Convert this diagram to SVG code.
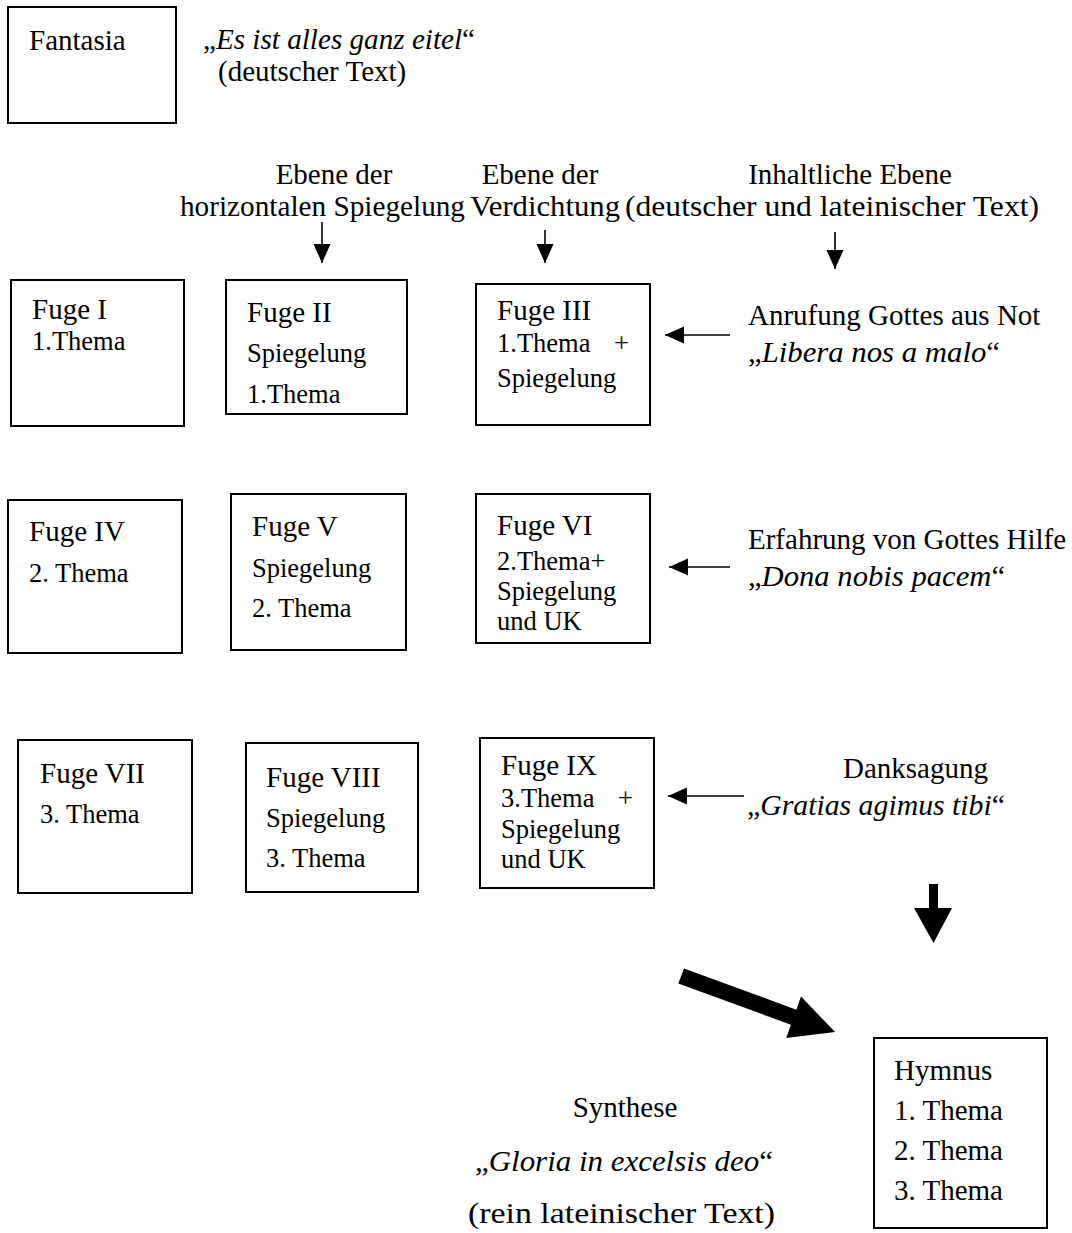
<svg xmlns="http://www.w3.org/2000/svg" width="1072" height="1233" viewBox="0 0 1072 1233">
<style>
text{font-family:"Liberation Serif","Times New Roman",serif;fill:#000;}
.m{font-size:29px;}
.s{font-size:26.5px;}
.i{font-style:italic;}
.c{text-anchor:middle;}
rect.b{fill:#fff;stroke:#000;stroke-width:2;}
.ln{stroke:#000;stroke-width:1.6;fill:none;}
.hd{fill:#000;stroke:none;}
</style>
<defs>
<marker id="ah" markerUnits="userSpaceOnUse" markerWidth="20" markerHeight="18" refX="19" refY="8.5" orient="auto">
<path d="M0,0 L19,8.5 L0,17 Z" fill="#000"/>
</marker>
</defs>
<rect width="1072" height="1233" fill="#fff"/>

<g id="fantasia">
<rect class="b" x="8" y="7" width="168" height="116"/>
<text class="m" x="29" y="50">Fantasia</text>
</g>
<g id="fantasia-text">
<text class="m" x="203" y="49" textLength="272" lengthAdjust="spacingAndGlyphs">„<tspan class="i">Es ist alles ganz eitel</tspan>“</text>
<text class="m" x="218" y="81">(deutscher Text)</text>
</g>

<g id="headers">
<text class="m c" x="334" y="184">Ebene der</text>
<text class="m" x="180" y="216" textLength="285" lengthAdjust="spacingAndGlyphs">horizontalen Spiegelung</text>
<text class="m c" x="540" y="184">Ebene der</text>
<text class="m" x="470" y="216" textLength="150" lengthAdjust="spacingAndGlyphs">Verdichtung</text>
<text class="m c" x="850" y="184">Inhaltliche Ebene</text>
<text class="m" x="625" y="216" textLength="414" lengthAdjust="spacingAndGlyphs">(deutscher und lateinischer Text)</text>
</g>

<g id="fuge1">
<rect class="b" x="11" y="280" width="173" height="146"/>
<text class="m" x="32" y="319">Fuge I</text>
<text class="s" x="32" y="350">1.Thema</text>
</g>
<g id="fuge2">
<rect class="b" x="226" y="280" width="181" height="134"/>
<text class="m" x="247" y="322">Fuge II</text>
<text class="s" x="247" y="362">Spiegelung</text>
<text class="s" x="247" y="403">1.Thema</text>
</g>
<g id="fuge3">
<rect class="b" x="476" y="284" width="174" height="141"/>
<text class="m" x="497" y="320">Fuge III</text>
<text class="s" x="497" y="352">1.Thema</text>
<text class="s" x="614" y="352">+</text>
<text class="s" x="497" y="387">Spiegelung</text>
</g>
<g id="ebene1">
<text class="m" x="748" y="325">Anrufung Gottes aus Not</text>
<text class="m" x="748" y="362" textLength="252" lengthAdjust="spacingAndGlyphs">„<tspan class="i">Libera nos a malo</tspan>“</text>
</g>

<g id="fuge4">
<rect class="b" x="8" y="500" width="174" height="153"/>
<text class="m" x="29" y="541">Fuge IV</text>
<text class="s" x="29" y="582">2. Thema</text>
</g>
<g id="fuge5">
<rect class="b" x="231" y="494" width="175" height="156"/>
<text class="m" x="252" y="536">Fuge V</text>
<text class="s" x="252" y="577">Spiegelung</text>
<text class="s" x="252" y="617">2. Thema</text>
</g>
<g id="fuge6">
<rect class="b" x="476" y="494" width="174" height="149"/>
<text class="m" x="497" y="535">Fuge VI</text>
<text class="s" x="497" y="570">2.Thema+</text>
<text class="s" x="497" y="600">Spiegelung</text>
<text class="s" x="497" y="630">und UK</text>
</g>
<g id="ebene2">
<text class="m" x="748" y="549">Erfahrung von Gottes Hilfe</text>
<text class="m" x="748" y="586" textLength="257" lengthAdjust="spacingAndGlyphs">„<tspan class="i">Dona nobis pacem</tspan>“</text>
</g>

<g id="fuge7">
<rect class="b" x="18" y="740" width="174" height="153"/>
<text class="m" x="40" y="783">Fuge VII</text>
<text class="s" x="40" y="823">3. Thema</text>
</g>
<g id="fuge8">
<rect class="b" x="246" y="743" width="172" height="149"/>
<text class="m" x="266" y="787">Fuge VIII</text>
<text class="s" x="266" y="827">Spiegelung</text>
<text class="s" x="266" y="867">3. Thema</text>
</g>
<g id="fuge9">
<rect class="b" x="480" y="738" width="174" height="150"/>
<text class="m" x="501" y="775">Fuge IX</text>
<text class="s" x="501" y="807">3.Thema</text>
<text class="s" x="618" y="807">+</text>
<text class="s" x="501" y="838">Spiegelung</text>
<text class="s" x="501" y="868">und UK</text>
</g>
<g id="ebene3">
<text class="m" x="843" y="778">Danksagung</text>
<text class="m" x="747" y="815" textLength="258" lengthAdjust="spacingAndGlyphs">„<tspan class="i">Gratias agimus tibi</tspan>“</text>
</g>

<g id="synthese">
<text class="m c" x="625" y="1117">Synthese</text>
<text class="m" x="475" y="1171" textLength="298" lengthAdjust="spacingAndGlyphs">„<tspan class="i">Gloria in excelsis deo</tspan>“</text>
<text class="m" x="468" y="1223" style="font-size:30px" textLength="307" lengthAdjust="spacingAndGlyphs">(rein lateinischer Text)</text>
</g>
<g id="hymnus">
<rect class="b" x="874" y="1038" width="173" height="190"/>
<text class="m" x="894" y="1080">Hymnus</text>
<text class="m" x="894" y="1120">1. Thema</text>
<text class="m" x="894" y="1160">2. Thema</text>
<text class="m" x="894" y="1200">3. Thema</text>
</g>

<g id="connectors">
<line class="ln" x1="322" y1="222" x2="322" y2="263" marker-end="url(#ah)"/>
<line class="ln" x1="545" y1="230" x2="545" y2="263" marker-end="url(#ah)"/>
<line class="ln" x1="835" y1="232" x2="835" y2="269" marker-end="url(#ah)"/>
<line class="ln" x1="730" y1="335" x2="665" y2="335" marker-end="url(#ah)"/>
<line class="ln" x1="730" y1="567" x2="669" y2="567" marker-end="url(#ah)"/>
<line class="ln" x1="744" y1="796" x2="668" y2="796" marker-end="url(#ah)"/>
<path class="hd" d="M929,884 L938,884 L938,908 L952,908 L933.5,943 L914,908 L929,908 Z"/>
<path class="hd" d="M684,968.5 L796.3,1009.7 L801,996.5 L835,1032 L786.2,1037.9 L790.9,1024.7 L678.3,983.5 Z"/>
</g>
</svg>
